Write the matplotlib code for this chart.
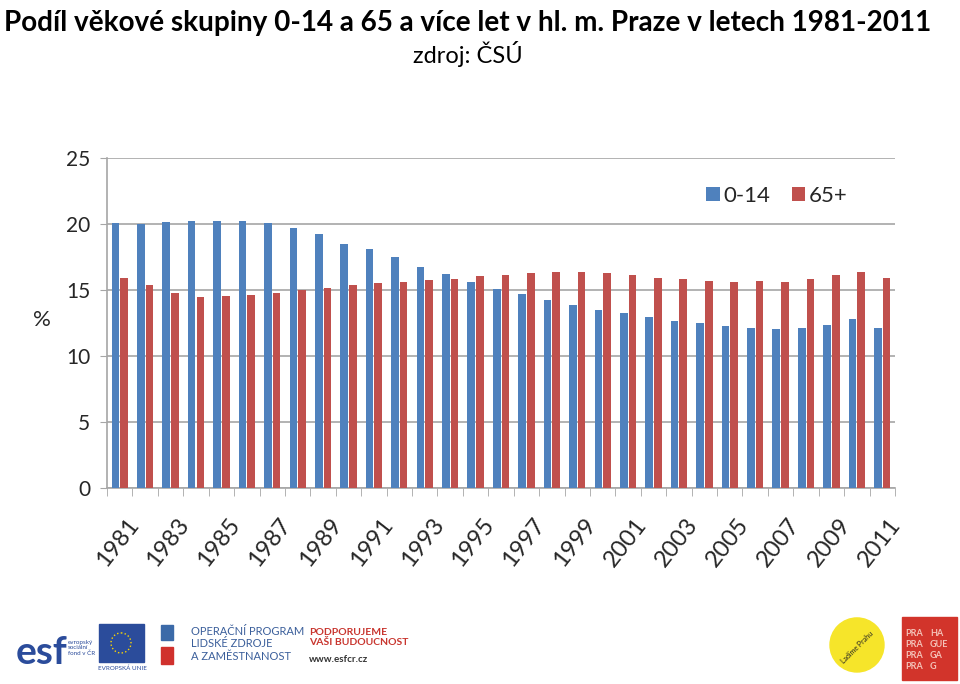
import numpy as np
import matplotlib.pyplot as plt
from matplotlib.patches import Rectangle, Circle

plt.rcParams['font.family'] = ['Lato', 'DejaVu Sans']

years = list(range(1981, 2012))
deti = [20.05, 20.0, 20.17, 20.25, 20.25, 20.25, 20.05, 19.72, 19.22, 18.48,
        18.08, 17.47, 16.77, 16.19, 15.6, 15.1, 14.67, 14.24, 13.9, 13.48,
        13.23, 12.98, 12.65, 12.47, 12.3, 12.15, 12.05, 12.15, 12.37, 12.8, 12.15]
senior = [15.93, 15.35, 14.75, 14.5, 14.57, 14.65, 14.8, 14.97, 15.17, 15.35,
          15.5, 15.63, 15.76, 15.86, 16.04, 16.14, 16.29, 16.36, 16.36, 16.29,
          16.14, 15.93, 15.86, 15.68, 15.6, 15.68, 15.6, 15.86, 16.11, 16.36, 15.93]
yticks = [0, 5, 10, 15, 20, 25]

blue = '#4F81BD'
red = '#C0504D'
grid_c = '#A6A6A6'
text_c = '#262626'

fig = plt.figure(figsize=(9.6, 6.84), dpi=100)
fig.text(0.487, 0.985, 'Podíl věkové skupiny 0-14 a 65 a více let v hl. m. Praze v letech 1981-2011',
         ha='center', va='top', fontsize=20.1, fontweight='bold')
fig.text(0.487, 0.94, 'zdroj: ČSÚ', ha='center', va='top', fontsize=17)

ax = fig.add_axes([0.1115, 0.2865, 0.8208, 0.4825])
x = np.arange(len(years))
w = 0.3
ax.bar(x - w / 2 - 0.02, deti, w, color=blue, label='0-14', zorder=3)
ax.bar(x + w / 2 + 0.02, senior, w, color=red, label='65+', zorder=3)

ax.set_xlim(-0.5, len(years) - 0.5)
ax.set_ylim(0, 25)
ax.set_yticks(yticks)
ax.yaxis.grid(True, color=grid_c, linewidth=1.2, zorder=0)
ax.tick_params(axis='y', length=5, color=grid_c, labelsize=15, labelcolor=text_c, pad=7)
ax.set_xticks(x[::2] + 0.25)
ax.set_xticklabels([str(y) for y in years[::2]], rotation=52, ha='right', rotation_mode='anchor',
                   fontsize=17, color=text_c)
ax.set_xticks(np.arange(-0.5, len(years), 1), minor=True)
ax.tick_params(axis='x', which='major', length=0, pad=19)
ax.tick_params(axis='x', which='minor', length=6, color=grid_c)
for s in ['top', 'right']:
    ax.spines[s].set_visible(False)
for s in ['left', 'bottom']:
    ax.spines[s].set_color(grid_c)
    ax.spines[s].set_linewidth(1.2)
ax.set_ylabel('%', rotation=0, fontsize=16, color=text_c)
ax.yaxis.set_label_coords(-0.083, 0.48)

leg = ax.legend(loc='upper right', bbox_to_anchor=(0.965, 0.975), ncol=2, frameon=False,
                handlelength=0.6, handleheight=0.6, handletextpad=0.15, columnspacing=1.0,
                prop={'size': 16})
for t in leg.get_texts():
    t.set_color(text_c)

# logos at the bottom
lg = fig.add_axes([0, 0, 1, 0.12])
lg.set_xlim(0, 960)
lg.set_ylim(82, 0)
lg.axis('off')
lg.text(16, 62, 'esf', fontsize=28, fontweight='bold', color='#2B4C9B', va='baseline')
lg.text(68, 46, 'evropský\nsociální\nfond v ČR', fontsize=4.5, color='#2B4C9B', va='center', linespacing=1.1)
lg.add_patch(Rectangle((99, 22), 45, 38, color='#2B4C9B'))
lg.add_patch(Circle((121, 41), 10, fill=False, ec='#FFD700', lw=1, ls=':'))
lg.text(98, 68, 'EVROPSKÁ UNIE', fontsize=4.5, color='#2B4C9B')
lg.add_patch(Rectangle((161, 23), 12, 15, color='#3B6AA8'))
lg.add_patch(Rectangle((161, 45), 12, 17, color='#D0312D'))
lg.text(191, 42, 'OPERAČNÍ PROGRAM\nLIDSKÉ ZDROJE\nA ZAMĚSTNANOST', fontsize=8, color='#3B5F9B',
        va='center', linespacing=1.15)
lg.text(309, 36, 'PODPORUJEME\nVAŠI BUDOUCNOST', fontsize=7.5, fontweight='bold', color='#C8352E',
        va='center', linespacing=1.15)
lg.text(309, 58, 'www.esfcr.cz', fontsize=7, fontweight='bold', color='#333333', va='center')
lg.add_patch(Circle((857, 43), 27, color='#F6E52A'))
lg.text(857, 45, 'Ladíme Prahu', fontsize=5, rotation=45, ha='center', va='center', color='#222222')
lg.add_patch(Rectangle((902, 15), 55, 63, color='#D2342B'))
lg.text(905, 48, 'PRA\nPRA\nPRA\nPRA', fontsize=6.5, fontweight='bold', color='#F4C2B8', va='center',
        linespacing=1.3)
lg.text(930, 48, 'HA\nGUE\nGA\nG', fontsize=6.5, fontweight='bold', color='#F4C2B8', va='center',
        linespacing=1.3)

plt.savefig('out.png', dpi=100)
